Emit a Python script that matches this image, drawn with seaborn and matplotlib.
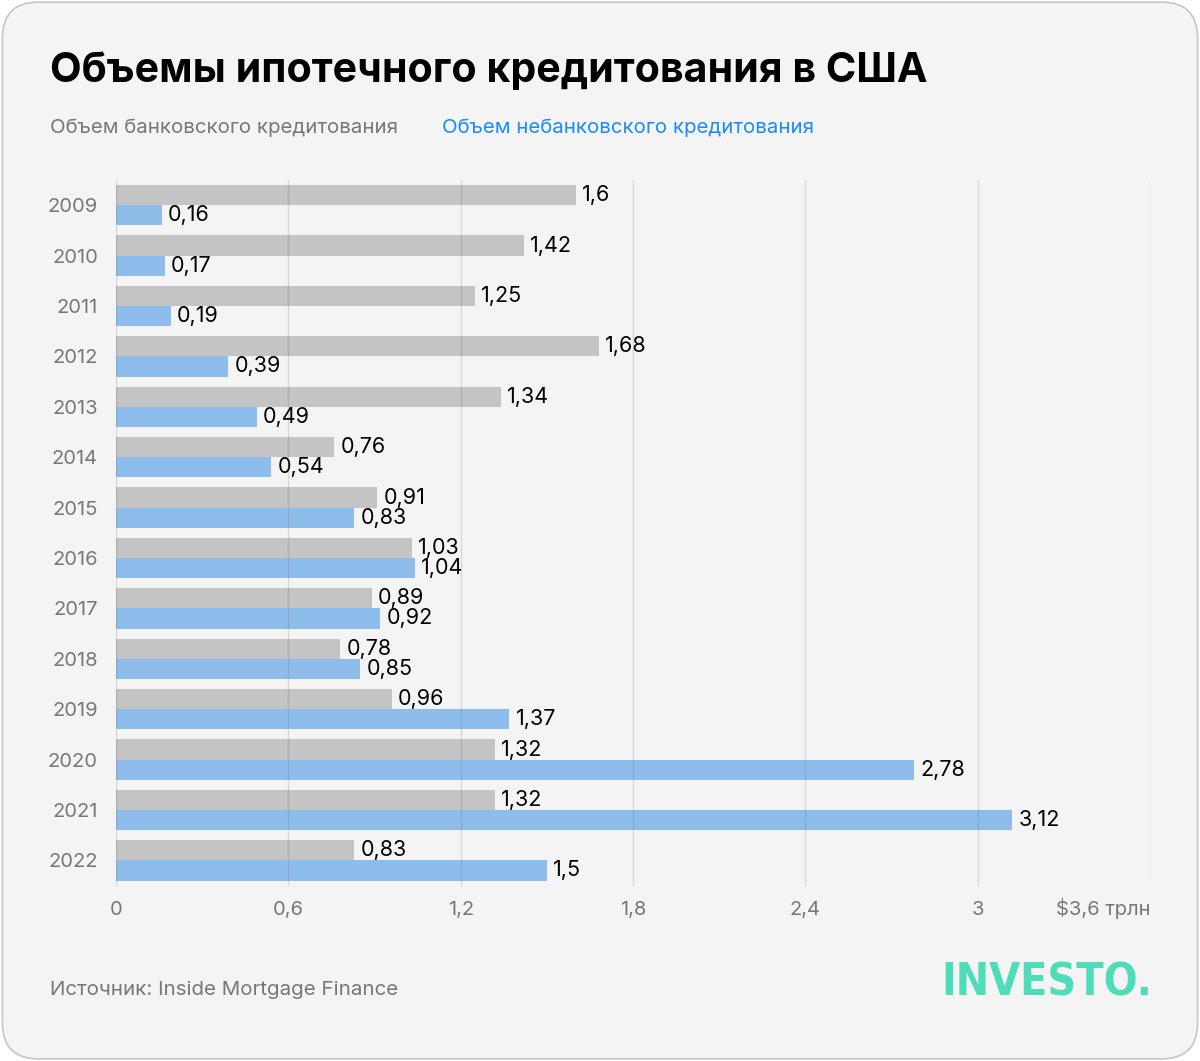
import matplotlib
matplotlib.use("Agg")
import matplotlib.pyplot as plt
from matplotlib.patches import FancyBboxPatch
import numpy as np
import pandas as pd
import seaborn as sns

# ----------------------- Data -----------------------
years = ["2009", "2010", "2011", "2012", "2013", "2014", "2015",
         "2016", "2017", "2018", "2019", "2020", "2021", "2022"]
bank = [1.6, 1.42, 1.25, 1.68, 1.34, 0.76, 0.91, 1.03, 0.89, 0.78, 0.96, 1.32, 1.32, 0.83]
nonbank = [0.16, 0.17, 0.19, 0.39, 0.49, 0.54, 0.83, 1.04, 0.92, 0.85, 1.37, 2.78, 3.12, 1.5]
series_names = ["Объем банковского кредитования", "Объем небанковского кредитования"]
x_ticks = [0, 0.6, 1.2, 1.8, 2.4, 3.0, 3.6]
x_tick_labels = ["0", "0,6", "1,2", "1,8", "2,4", "3", "$3,6 трлн"]

BG = "#f4f4f4"
GRAY_BAR = "#c4c4c4"
BLUE_BAR = "#8fbdeb"
TEXT_GRAY = "#777777"

df = pd.DataFrame({
    "year": years * 2,
    "value": bank + nonbank,
    "series": [series_names[0]] * len(years) + [series_names[1]] * len(years),
})

sns.set_style("white")
plt.rcParams["font.family"] = ["Inter", "DejaVu Sans"]

fig = plt.figure(figsize=(12, 10.61), dpi=100)
fig.patch.set_facecolor("white")

# rounded card background (kept behind the axes)
card = FancyBboxPatch((0.002, 0.002), 0.996, 0.996, boxstyle="round,pad=0,rounding_size=0.03",
                      transform=fig.transFigure, facecolor=BG, edgecolor="#c6c6c6", linewidth=1.2,
                      mutation_aspect=1200 / 1061, zorder=-10)
fig.patches.append(card)

ax = fig.add_axes([116 / 1200, 1 - 885.6 / 1061, (1150 - 116) / 1200, 705.6 / 1061])
ax.set_facecolor(BG)

sns.barplot(data=df, x="value", y="year", hue="series", orient="h", ax=ax,
            palette=[GRAY_BAR, BLUE_BAR], width=0.8, saturation=1, legend=False,
            linewidth=0, edgecolor="none")

for cont in ax.containers:
    labels = [f"{v:g}".replace(".", ",") for v in cont.datavalues]
    ax.bar_label(cont, labels=labels, padding=4.5, fontsize=15.5, color="black")

ax.set_xlim(0, 3.6)
ax.set_ylim(13.5, -0.5)
ax.set_xticks(x_ticks)
ax.set_xticklabels(x_tick_labels, fontsize=14.5, color=TEXT_GRAY)
for lbl in ax.get_xticklabels():
    lbl.set_verticalalignment("baseline")
ax.get_xticklabels()[-1].set_horizontalalignment("right")
ax.tick_params(axis="x", length=0, pad=21)
ax.tick_params(axis="y", length=0, pad=13, labelsize=14.5, labelcolor=TEXT_GRAY)
ax.set_xlabel("")
ax.set_ylabel("")
for s in ax.spines.values():
    s.set_visible(False)

# vertical gridlines drawn over the bars
for xv in x_ticks:
    ax.axvline(xv, color="#555555", alpha=0.18, linewidth=1, zorder=5)

# ----------------------- Texts -----------------------
fig.text(50 / 1200, 1 - 71 / 1061, "Объемы ипотечного кредитования в США",
         fontsize=29.6, fontweight="bold", color="black", va="center", ha="left")
fig.text(50 / 1200, 1 - 128 / 1061, series_names[0], fontsize=14.7, color=TEXT_GRAY,
         va="center", ha="left")
fig.text(442 / 1200, 1 - 128 / 1061, series_names[1], fontsize=14.7, color="#1a8cff",
         va="center", ha="left")
fig.text(50 / 1200, 1 - 990 / 1061, "Источник: Inside Mortgage Finance", fontsize=14.8,
         color=TEXT_GRAY, va="center", ha="left")
fig.text(1152 / 1200, 1 - 983 / 1061, "INVESTO.", fontsize=32, fontweight="bold",
         fontstretch="condensed", color="#4fdcb8", va="center", ha="right",
         family=["DejaVu Sans"])

fig.savefig("out.png", dpi=100, facecolor=fig.get_facecolor())
